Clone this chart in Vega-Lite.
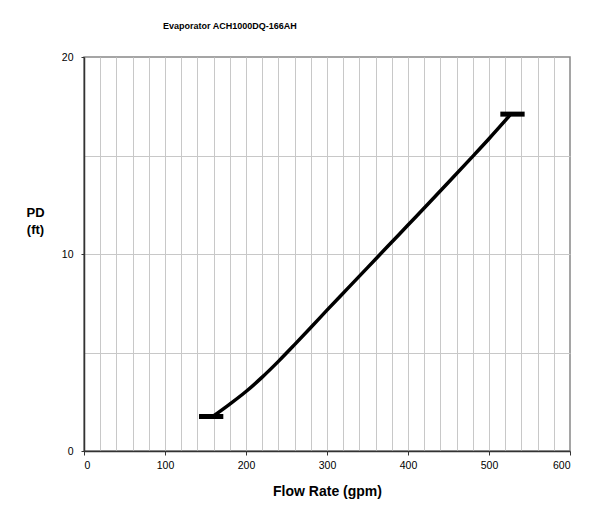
{
  "$schema": "https://vega.github.io/schema/vega-lite/v6.json",
  "autosize": {"type": "none"},
  "width": 486,
  "height": 394,
  "padding": {"left": 84, "top": 57, "right": 29, "bottom": 61},
  "background": "white",
  "config": {
    "font": "Liberation Sans",
    "view": {"stroke": "#888888", "strokeWidth": 1.5},
    "axis": {"labelFont": "Liberation Sans", "titleFont": "Liberation Sans"}
  },
  "title": {
    "text": "Evaporator ACH1000DQ-166AH",
    "anchor": "start",
    "frame": "group",
    "dx": 79,
    "offset": 21,
    "fontSize": 9,
    "fontWeight": "bold",
    "color": "#000000",
    "font": "Liberation Sans"
  },
  "datasets": {
    "curve": [
      {"gpm": 159, "pd": 1.75},
      {"gpm": 180, "pd": 2.38},
      {"gpm": 200, "pd": 3.02},
      {"gpm": 220, "pd": 3.75},
      {"gpm": 240, "pd": 4.55},
      {"gpm": 260, "pd": 5.4},
      {"gpm": 280, "pd": 6.27},
      {"gpm": 300, "pd": 7.15},
      {"gpm": 325, "pd": 8.23},
      {"gpm": 350, "pd": 9.31},
      {"gpm": 375, "pd": 10.39},
      {"gpm": 400, "pd": 11.47},
      {"gpm": 425, "pd": 12.55},
      {"gpm": 450, "pd": 13.64},
      {"gpm": 475, "pd": 14.74},
      {"gpm": 500, "pd": 15.85},
      {"gpm": 526, "pd": 17.05}
    ],
    "ends": [
      {"x1": 142, "x2": 172, "pd": 1.75},
      {"x1": 514, "x2": 544, "pd": 17.1}
    ],
    "grid": [{"gpm": 0, "pd": 0}]
  },
  "layer": [
    {
      "data": {"name": "grid"},
      "mark": {"type": "point", "opacity": 0},
      "encoding": {
        "x": {
          "field": "gpm", "type": "quantitative",
          "scale": {"domain": [0, 600], "nice": false},
          "axis": {
            "orient": "top", "values": [20,40,60,80,100,120,140,160,180,200,220,240,260,280,300,320,340,360,380,400,420,440,460,480,500,520,540,560,580],
            "grid": true, "gridColor": "#c8c8c8", "gridWidth": 1, "gridOpacity": 1,
            "labels": false, "ticks": false, "domain": false, "title": null
          }
        },
        "y": {
          "field": "pd", "type": "quantitative",
          "scale": {"domain": [0, 20], "nice": false},
          "axis": {
            "orient": "right", "values": [5, 10, 15],
            "grid": true, "gridColor": "#c8c8c8", "gridWidth": 1, "gridOpacity": 1,
            "labels": false, "ticks": false, "domain": false, "title": null
          }
        }
      }
    },
    {
      "layer": [
        {
          "data": {"name": "curve"},
          "mark": {"type": "line", "color": "#000000", "strokeWidth": 3.5, "interpolate": "monotone"},
          "encoding": {
            "x": {
              "field": "gpm", "type": "quantitative",
              "scale": {"domain": [0, 600], "nice": false},
              "axis": {
                "values": [0, 100, 200, 300, 400, 500, 600],
                "grid": false, "domainColor": "#333333", "domainWidth": 1.5,
                "tickColor": "#333333", "tickSize": 4, "labelFontSize": 10.5, "labelColor": "#000000",
                "labelPadding": 5,
                "title": "Flow Rate (gpm)", "titleFontSize": 14, "titleFontWeight": "bold", "titleColor": "#000000",
                "titlePadding": 14
              }
            },
            "y": {
              "field": "pd", "type": "quantitative",
              "scale": {"domain": [0, 20], "nice": false},
              "axis": {
                "values": [0, 10, 20],
                "grid": false, "domainColor": "#333333", "domainWidth": 1.5,
                "tickColor": "#333333", "tickSize": 3, "labelFontSize": 10.5, "labelColor": "#000000",
                "labelPadding": 8,
                "title": ["PD", "(ft)"], "titleFontSize": 13, "titleFontWeight": "bold", "titleColor": "#000000",
                "titleAngle": 0, "titleAlign": "center", "titleBaseline": "top",
                "titleX": -49, "titleY": 149, "titleLineHeight": 17
              }
            }
          }
        },
        {
          "data": {"name": "ends"},
          "mark": {"type": "rule", "color": "#000000", "strokeWidth": 5},
          "encoding": {
            "x": {"field": "x1", "type": "quantitative"},
            "x2": {"field": "x2"},
            "y": {"field": "pd", "type": "quantitative"}
          }
        }
      ]
    }
  ],
  "resolve": {"axis": {"x": "independent", "y": "independent"}}
}
